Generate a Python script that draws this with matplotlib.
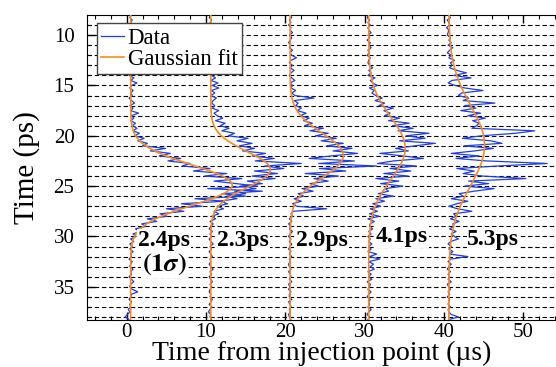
import numpy as np
import matplotlib.pyplot as plt

plt.rcParams['font.family'] = ['Liberation Serif', 'DejaVu Serif']
plt.rcParams['mathtext.fontset'] = 'stix'

# sample times (ps), 4 samples per ps
t = np.arange(8.0, 39.0, 0.25)

# trace offsets along x (us)
offsets = [0, 10, 20, 30, 40]

trace1 = [0.6, 0.4, 0.7, 0.5, 0.5, 0.8, 0.4, 0.6, 0.7, 0.3, 0.6, 0.5, 0.4, 0.7, 0.5, 0.9,
          0.5, 0.3, 0.6, 0.8, 0.4, 0.6, 0.5, 0.7, 0.3, 0.9, 0.5, 1.3, 0.6, 0.4, 0.8, 0.5,
          0.7, 0.3, 0.6, 1.0, 0.4, 0.8, 0.5, 1.5, 0.6, 0.9, 0.5, 1.1, 0.7, 1.3, 0.8, 1.6,
          1.0, 2.2, 1.4, 2.6, 2.0, 4.9, 3.0, 5.5, 4.1, 6.8, 5.2, 8.0, 7.0, 10.5, 8.4, 12.6,
          9.8, 14.5, 11.0, 13.8, 16.5, 10.2, 17.1, 12.0, 15.0, 8.6, 12.3, 6.9, 9.5, 5.0, 7.2, 4.2,
          5.1, 2.6, 3.8, 1.9, 2.4, 1.1, 1.7, 0.8, 1.2, 0.5, 0.9, 0.4, 0.7, 0.4, 0.8, 0.5,
          0.6, 0.3, 0.7, 0.5, 0.4, 0.8, 0.5, 0.6, 0.3, 0.6, 0.9, 0.5, 0.4, 0.7, 1.4, 0.6,
          0.5, 0.3, 0.6, 0.4, 0.5, 0.2, 0.4, 0.1, -0.2, 0.3, 0.0, 0.2]
trace2 = [0.6, 0.4, 0.7, 0.5, 0.8, 0.5, 0.6, 0.4, 0.7, 0.5, 0.9, 0.6, 0.4, 0.7, 0.5, 0.6,
          0.8, 0.5, 0.3, 0.7, 0.5, 0.9, 0.6, 0.4, 0.7, 1.2, 0.6, 1.5, 0.8, 1.6, 0.7, 1.1,
          0.6, 1.3, 0.9, 0.7, 1.1, 0.8, 1.6, 1.0, 1.4, 2.1, 1.2, 2.4, 1.8, 2.9, 2.0, 3.6,
          2.8, 5.3, 3.9, 5.8, 4.2, 6.1, 4.6, 7.5, 5.8, 8.6, 6.2, 12.0, 7.4, 9.8, 6.1, 9.0,
          5.8, 8.7, 5.2, 7.1, 4.3, 6.3, 3.6, 5.0, 2.6, 3.9, 1.8, 2.7, 1.4, 2.2, 1.0, 1.6,
          0.7, 1.2, 0.5, 0.9, 0.6, 0.4, 0.8, 0.5, 0.7, 0.4, 0.6, 0.9, 0.5, 0.7, 0.4, 0.6,
          0.8, 0.5, 0.6, 0.4, 0.6, 0.9, 0.5, 0.7, 0.4, 0.6, 0.8, 0.5, 0.7, 0.5, 0.4, 0.6,
          0.5, 0.8, 0.6, 0.4, 0.7, 0.5, 0.3, 0.6, 0.5, 0.7, 0.4, 0.6]
trace3 = [0.6, 0.8, 0.5, 0.7, 0.4, 0.7, 0.6, 0.9, 0.5, 0.8, 0.6, 0.4, 0.7, 0.5, 0.9, 0.6,
          0.8, 1.4, 0.7, 0.5, 0.9, 0.6, 1.1, 0.7, 0.5, 0.8, 1.2, 0.6, 0.9, 0.7, 1.3, 0.8,
          1.2, 3.6, 1.1, 1.6, 1.3, 2.0, 1.5, 2.6, 1.9, 3.0, 2.3, 3.4, 2.4, 4.8, 3.1, 5.4,
          3.8, 6.4, 4.5, 7.3, 5.2, 8.4, 6.0, 9.1, 5.8, 3.0, 8.7, 4.2, 11.5, 4.3, 7.6, 2.5,
          6.7, 3.6, 5.4, 3.1, 4.2, 2.1, 3.5, 1.6, 2.3, 1.1, 2.0, 0.9, 1.4, 5.2, 1.0, 0.7,
          0.9, 0.5, 0.8, 0.4, 0.7, 0.5, 0.9, 0.6, 0.4, 0.7, 0.5, 0.8, 0.6, 0.4, 0.7, 0.5,
          0.8, 0.5, 0.6, 0.4, 0.5, 0.7, 0.4, 0.6, 0.7, 0.5, 0.8, 0.4, 0.6, 0.4, 0.7, 0.5,
          0.5, 0.8, 0.4, 0.6, 0.7, 0.5, 0.6, 0.4, 0.5, 0.7, 0.6, 0.5]
trace4 = [0.5, 0.3, 0.6, 0.4, 0.7, 0.4, 0.5, 0.8, 0.4, 0.6, 0.3, 0.7, 0.5, 0.8, 0.4, 0.6,
          0.3, 0.7, 0.5, 0.4, 0.6, 1.0, 0.5, 0.8, 0.4, 1.3, 0.7, 1.0, 1.6, 0.6, 1.2, 0.9,
          1.4, 2.2, 1.3, 2.5, 1.8, 3.6, 2.4, 3.2, 2.5, 4.4, 3.0, 5.6, 3.5, 6.1, 4.2, 8.1,
          5.2, 7.6, 4.4, 8.9, 6.3, 3.9, 5.5, 1.9, 4.8, 7.4, 3.6, 1.6, 6.5, 3.2, 5.8, 2.4,
          5.5, 1.4, 4.3, 2.0, 4.8, 2.6, 3.0, 1.7, 3.6, 1.4, 2.5, 1.0, 2.0, 0.7, 1.6, 0.6,
          1.8, 0.4, 1.2, 0.7, 0.6, 1.0, 0.5, 0.8, 0.4, 0.7, 0.5, 0.9, 0.5, 0.8, 0.4, 1.5,
          0.6, 1.9, 0.5, 1.1, 0.7, 1.2, 0.4, 0.8, 0.5, 0.9, 0.3, 0.7, 0.6, 0.4, 0.8, 0.5,
          0.3, 0.7, 0.5, 0.6, 0.4, 0.8, 0.5, 0.3, 0.6, 0.4, 0.7, 0.5]
trace5 = [0.5, 0.8, 0.4, 0.6, 0.7, 0.3, 0.6, 0.5, 0.4, 0.8, 0.6, 0.9, 0.5, 1.1, 0.7, 0.4,
          0.9, 0.6, 1.3, 0.8, 1.0, 0.7, 1.6, 2.8, 1.2, 3.4, 1.0, 0.5, 1.4, 2.6, 4.9, 2.2,
          1.8, 3.1, 2.4, 6.4, 2.6, 4.0, 2.1, 4.6, 3.0, 5.2, 3.6, 4.4, 4.1, 3.5, 11.4, 9.0,
          4.7, 2.3, 5.9, 7.3, 2.5, 6.2, 3.9, 0.9, 4.4, 1.5, 5.4, 13.0, 6.8, 1.6, 3.8, 2.4,
          4.9, 10.3, 3.1, 5.6, 2.6, 6.3, 3.8, 1.9, 2.4, 0.9, 3.0, 1.6, 0.6, 1.7, 3.5, 1.2,
          1.5, 0.8, 1.9, 1.1, 1.2, 0.7, 1.5, 0.9, 1.3, 1.8, 0.8, 0.5, 0.9, 0.6, 1.1, 0.7,
          3.0, 0.8, 0.5, 0.9, 0.6, 0.4, 0.8, 0.5, 0.7, 0.5, 0.9, 0.4, 0.6, 0.8, 0.5, 0.7,
          0.4, 0.7, 0.6, 0.5, 0.8, 0.5, 0.6, 0.9, 1.8, 0.6, 0.5, 0.7]
traces = [trace1, trace2, trace3, trace4, trace5]

# gaussian fit parameters per trace: baseline, amplitude, centre (ps), sigma (ps)
fit_base = [0.5, 0.6, 0.6, 0.5, 0.6]
fit_amp = [12.8, 7.5, 6.7, 4.6, 4.5]
fit_center = [24.9, 23.35, 21.95, 21.25, 20.95]
fit_sigma = [2.0, 1.8, 2.2, 3.1, 4.0]

# width labels
width_labels = ['2.4ps', '2.3ps', '2.9ps', '4.1ps', '5.3ps']
label_x = [4.7, 14.7, 24.6, 34.7, 46.2]
label_y = [30.4, 30.4, 30.4, 30.0, 30.3]

BLUE = '#1f3fe0'
ORANGE = '#ff8a1c'

fig = plt.figure(figsize=(5.56, 3.67), dpi=100)
ax = fig.add_axes([87 / 556, 47 / 367, 469 / 556, 305 / 367])

# horizontal dashed guide lines every ps
for yy in range(9, 39):
    ax.axhline(yy, color='black', lw=0.8, dashes=(4, 2.5), zorder=1)

tt = np.linspace(8.0, 38.5, 400)
for i in range(5):
    ax.plot(offsets[i] + np.array(traces[i]), t, color=BLUE, lw=0.9, zorder=3,
            label='Data' if i == 0 else None)
    fit = fit_base[i] + fit_amp[i] * np.exp(-(tt - fit_center[i]) ** 2 / (2 * fit_sigma[i] ** 2))
    ax.plot(offsets[i] + fit, tt, color=ORANGE, lw=1.2, zorder=4,
            label='Gaussian fit' if i == 0 else None)

for i in range(5):
    ax.text(label_x[i], label_y[i], width_labels[i], fontsize=17, fontweight='bold',
            ha='center', va='center', zorder=6,
            bbox=dict(facecolor='white', edgecolor='none', pad=0.5))
ax.text(label_x[0], 32.8, r'$\mathbf{(1}\boldsymbol{\sigma}\mathbf{)}$', fontsize=19,
        ha='center', va='center', zorder=6,
        bbox=dict(facecolor='white', edgecolor='none', pad=0.5))

ax.set_xlim(-5, 54.1)
ax.set_ylim(38.3, 8.0)
ax.set_xticks([0, 10, 20, 30, 40, 50])
ax.set_xticks(np.arange(-4, 55, 2), minor=True)
ax.set_yticks([10, 15, 20, 25, 30, 35])
ax.set_yticks(np.arange(9, 39, 1), minor=True)
ax.tick_params(which='both', direction='in', top=True, labelsize=15)
ax.tick_params(which='major', length=6, width=1)
ax.tick_params(which='minor', length=3, width=0.8)
ax.tick_params(axis='x', pad=2)
ax.tick_params(axis='y', pad=9)
ax.spines['right'].set_visible(False)

ax.set_xlabel('Time from injection point (µs)', fontsize=20, labelpad=-1)
ax.set_ylabel('Time (ps)', fontsize=21, labelpad=10)

leg = ax.legend(loc='upper left', bbox_to_anchor=(0.021, 0.974), borderaxespad=0,
                fontsize=16.5, fancybox=False, framealpha=1, edgecolor='#444444',
                handlelength=1.0, handletextpad=0.15, labelspacing=0.0, borderpad=0.2)
leg.get_frame().set_linewidth(1.0)
leg.set_zorder(7)

fig.savefig('out.png', dpi=100)
